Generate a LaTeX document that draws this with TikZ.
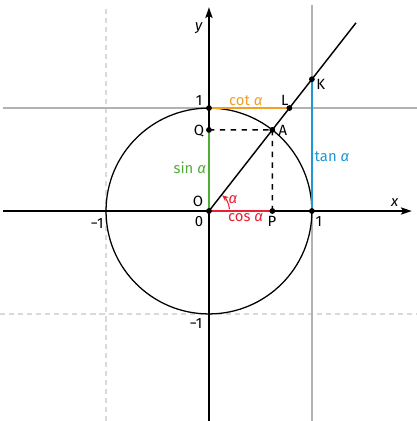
\documentclass[tikz,border=0pt]{standalone}
\usepackage{fontspec}
\setmainfont{Fira Sans}
\usetikzlibrary{arrows.meta,positioning}
\definecolor{sincol}{RGB}{80,172,52}
\definecolor{coscol}{RGB}{232,32,52}
\definecolor{tancol}{RGB}{32,150,212}
\definecolor{cotcol}{RGB}{240,160,40}
\newcommand{\al}{\textit{α}}

\begin{document}
\begin{tikzpicture}
		[x=2cm,y=2cm,
		axis/.style ={draw, line width=0.8pt, -{Stealth[length=6pt,width=4pt,inset=1.2pt]}},
		grid/.style ={draw=black!30, line width=0.8pt},
		guide/.style ={draw=black!15, line width=0.8pt, dash pattern=on 2.8pt off 2.2pt},
		seg/.style ={draw, line width=1.1pt},
		dot/.style ={circle, fill=black, inner sep=0pt, minimum size=3.2pt},
		lbl/.style ={font=\fontsize{8.2}{10}\selectfont, inner sep=1pt}]
		\useasboundingbox (-2.03,-2.04) rectangle (2.02,2.05);

		% points
		\coordinate (O) at (0,0);
		\coordinate (E) at (1,0);
		\coordinate (U) at (0,1);
		\coordinate (A) at (52:1);
		\coordinate (P) at (0.6157,0);
		\coordinate (Q) at (0,0.7880);
		\coordinate (K) at (1,1.2799);
		\coordinate (L) at (0.7813,1);
		\coordinate (T) at (52:2.32);
		\coordinate (xl) at (-2.0,0);
		\coordinate (xr) at (1.97,0);
		\coordinate (yb) at (0,-2.04);
		\coordinate (yt) at (0,1.98);

		% help lines
		\path[guide] (-1,-2.04) -- (-1,1.96);
		\path[guide] (-2.03,-1) -- (2.02,-1);
		\path[grid] (-2.0,1) -- (2.02,1);
		\path[grid] (1,-2.04) -- (1,2.0);

		\draw[line width=0.7pt] (O) circle (1);
		\path[axis] (xl) -- (xr);
		\path[axis] (yb) -- (yt);

		\path[seg]
		(O) edge[sincol] node[lbl, left, sincol, pos=0.53] (lsin) {sin \al} (Q)
		(O) edge[coscol] node[lbl, below, coscol, pos=0.58] (lcos) {cos \al} (P)
		(E) edge[tancol] node[lbl, right, tancol, pos=0.41] (ltan) {tan \al} (K)
		(U) edge[cotcol] node[lbl, above, cotcol, pos=0.46] (lcot) {cot \al} (L);

		\path[draw, line width=0.8pt, dashed]
		(Q) edge (A)
		(A) edge (P);

		\draw[line width=0.8pt] (O) -- (T);
		\draw[coscol, line width=0.6pt, -{Stealth[length=3.5pt,width=3pt]}] (5:0.2) arc (5:50:0.2);

		\foreach \p in {O,E,U,A,P,Q,K,L}
			\node[dot] (d\p) at (\p) {};

		% labels
		\node[lbl] (ly) at (-0.097,1.777) {\textit{y}};
		\node[lbl] (lx) at (1.806,0.078) {\textit{x}};
		\node[lbl] (lu) at (-0.097,1.078) {1};
		\node[lbl] (lq) at (-0.097,0.777) {Q};
		\node[lbl] (lo) at (-0.107,0.097) {O};
		\node[lbl] (lz) at (-0.097,-0.107) {0};
		\node[lbl] (lp) at (0.612,-0.097) {P};
		\node[lbl] (le) at (1.068,-0.107) {1};
		\node[lbl] (lk) at (1.087,1.233) {K};
		\node[lbl] (ll) at (0.738,1.078) {L};
		\node[lbl] (la) at (0.718,0.786) {A};
		\node[lbl, coscol] (lal) at (0.233,0.107) {\al};
		\node[lbl] (lm) at (-1.087,-0.117) {−1};
		\node[lbl] (ln) at (-0.126,-1.097) {−1};

	\end{tikzpicture}
\end{document}
